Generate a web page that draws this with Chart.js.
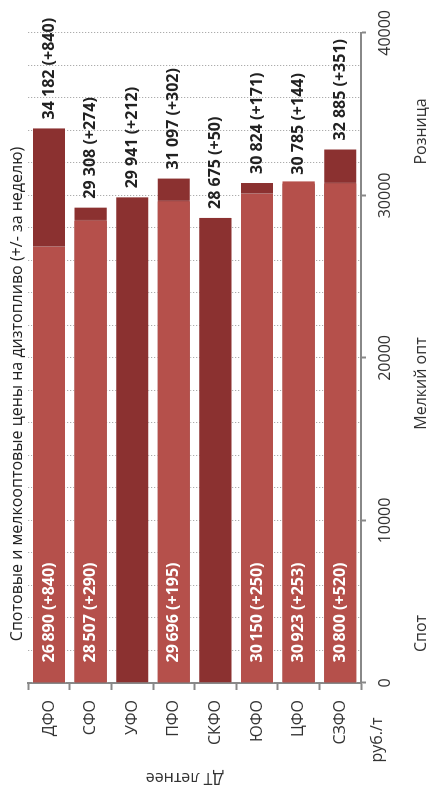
<!DOCTYPE html>
<html><head><meta charset="utf-8">
<script src="https://cdn.jsdelivr.net/npm/chart.js@4/dist/chart.umd.min.js"></script>
<style>
html,body{margin:0;padding:0;background:#fff;overflow:hidden;}
#wrap{position:absolute;left:0;top:0;width:803px;height:432px;transform-origin:0 0;transform:translateY(803px) rotate(-90deg);}
</style></head><body>
<div id="wrap"><canvas id="c" width="803" height="432"></canvas></div>
<script>
const categories = ['ДФО', 'СФО', 'УФО', 'ПФО', 'СКФО', 'ЮФО', 'ЦФО', 'СЗФО'];
const spotValues = [26890, 28507, null, 29696, null, 30150, 30923, 30800];
const spotChanges = [840, 290, null, 195, null, 250, 253, 520];
const smallWholesaleValues = [null, null, null, null, null, null, null, null];
const retailValues = [34182, 29308, 29941, 31097, 28675, 30824, 30785, 32885];
const retailChanges = [840, 274, 212, 302, 50, 171, 144, 351];
const seriesNames = ['Спот', 'Мелкий опт', 'Розница'];
const valueTickLabels = [0, 10000, 20000, 30000, 40000];
const titleText = 'Спотовые и мелкооптовые цены на дизтопливо (+/- за неделю)';
const categoryAxisTitle = 'ДТ летнее';
const unitLabel = 'руб./т';

const FONT = '"Open Sans", "Noto Sans", sans-serif';
const LIGHT = '#b5504b';
const DARK = '#8b3130';

function fmt(v, sep) {
  return String(v).replace(/\B(?=(\d{3})+(?!\d))/g, sep);
}

const annot = {
  id: 'annot',
  afterDatasetsDraw(chart) {
    const ctx = chart.ctx;
    ctx.save();
    ctx.textBaseline = 'middle';
    ctx.textAlign = 'left';
    ctx.font = 'bold 16px ' + FONT;
    const mSpot = chart.getDatasetMeta(0);
    mSpot.data.forEach((bar, i) => {
      if (spotValues[i] == null) return;
      ctx.fillStyle = '#ffffff';
      ctx.fillText(fmt(spotValues[i], '\u2009') + ' (+' + spotChanges[i] + ')', bar.base + 20, bar.y);
    });
    const mRet = chart.getDatasetMeta(2);
    mRet.data.forEach((bar, i) => {
      if (retailValues[i] == null) return;
      ctx.fillStyle = '#222222';
      ctx.fillText(fmt(retailValues[i], ' ') + ' (+' + retailChanges[i] + ')', bar.x + 8, bar.y);
    });
    ctx.restore();
  },
  afterDraw(chart) {
    const ctx = chart.ctx;
    const a = chart.chartArea;
    ctx.save();
    ctx.fillStyle = '#333333';
    ctx.font = '16px ' + FONT;
    ctx.textBaseline = 'middle';
    ctx.textAlign = 'center';
    // legend (text only)
    const mid = (chart.width) / 2 + 18;
    const ly = a.bottom + 60;
    ctx.fillText(seriesNames[0], mid - 250, ly);
    ctx.fillText(seriesNames[1], mid, ly);
    ctx.fillText(seriesNames[2], mid + 252, ly);
    // unit label
    ctx.fillText(unitLabel, 63, a.bottom + 16);
    // category axis title
    ctx.save();
    ctx.translate(25, (a.top + a.bottom) / 2 - 10);
    ctx.rotate(-Math.PI / 2);
    ctx.fillText(categoryAxisTitle, 0, 0);
    ctx.restore();
    ctx.restore();
  }
};

new Chart(document.getElementById('c'), {
  type: 'bar',
  data: {
    labels: categories,
    datasets: [
      { label: seriesNames[0], data: spotValues, backgroundColor: LIGHT, borderColor: 'rgba(255,255,255,0.35)', borderWidth: 1, grouped: false, barPercentage: 0.82, categoryPercentage: 1 },
      { label: seriesNames[1], data: smallWholesaleValues, backgroundColor: '#a04040', borderWidth: 0, grouped: false, barPercentage: 0.82, categoryPercentage: 1 },
      { label: seriesNames[2], data: retailValues, backgroundColor: DARK, borderColor: 'rgba(255,255,255,0.35)', borderWidth: 1, grouped: false, barPercentage: 0.82, categoryPercentage: 1 }
    ]
  },
  options: {
    indexAxis: 'y',
    responsive: false,
    animation: false,
    devicePixelRatio: 1,
    layout: { padding: { left: 42, right: 27, top: 0, bottom: 0 } },
    plugins: {
      legend: { display: false },
      tooltip: { enabled: false },
      title: {
        display: true, text: titleText, color: '#222',
        font: { family: FONT, size: 16, weight: 'normal', lineHeight: 1.2 },
        padding: { top: 8, bottom: 1 }
      }
    },
    scales: {
      x: {
        min: 0, max: 40000,
        afterFit(s) { s.height = 71; },
        ticks: {
          stepSize: 2000, autoSkip: false, maxRotation: 0, padding: 10,
          color: '#333', font: { family: FONT, size: 16 },
          callback: (v) => valueTickLabels.includes(v) ? String(v) : ''
        },
        grid: {
          color: '#999999', lineWidth: 1, tickLength: 5,
          tickColor: (c) => (c.tick && valueTickLabels.includes(c.tick.value)) ? '#888888' : 'rgba(0,0,0,0)',
          tickWidth: 2, tickBorderDash: []
        },
        border: { display: true, color: '#888888', width: 2, dash: [1, 2] }
      },
      y: {
        afterFit(s) { s.width = 78; },
        ticks: { color: '#333', font: { family: FONT, size: 16 }, padding: 10 },
        grid: { offset: true, drawOnChartArea: false, tickLength: 7, tickColor: '#888888', tickWidth: 2, color: '#888888' },
        border: { display: true, color: '#888888', width: 2 }
      }
    }
  },
  plugins: [annot]
});
</script>
</body></html>
